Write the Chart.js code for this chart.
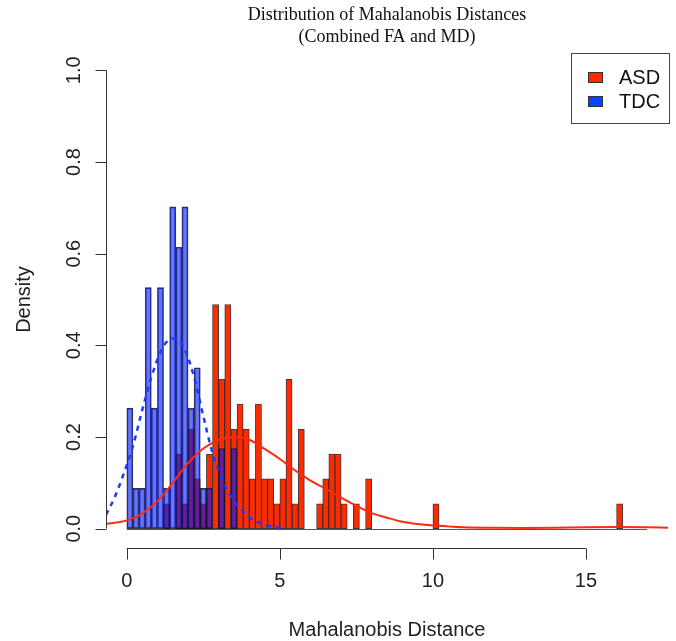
<!DOCTYPE html>
<html>
<head>
<meta charset="utf-8">
<script src="https://cdn.jsdelivr.net/npm/chart.js"></script>
<style>
  html, body { margin: 0; padding: 0; background: #fff; }
  #wrap { width: 676px; height: 641px; }
</style>
</head>
<body>
<div id="wrap"><canvas id="chart" width="676" height="641"></canvas></div>
<script>
const tdcCenters = [0.1, 0.3, 0.5, 0.7, 0.9, 1.1, 1.3, 1.5, 1.7, 1.9, 2.1, 2.3, 2.5, 2.7, 3.1, 3.5];
const tdcDensity = [0.263, 0.088, 0.088, 0.526, 0.263, 0.526, 0.088, 0.702, 0.614, 0.702, 0.263, 0.351, 0.088, 0.088, 0.175, 0.175];

const asdCenters = [1.3, 1.7, 1.9, 2.1, 2.3, 2.5, 2.7, 2.9, 3.1, 3.3, 3.5, 3.7, 3.9, 4.1, 4.3, 4.5,
                    4.7, 4.9, 5.1, 5.3, 5.5, 5.7, 6.3, 6.5, 6.7, 6.9, 7.1, 7.5, 7.9, 10.1, 16.1];
const asdDensity = [0.054, 0.163, 0.054, 0.217, 0.109, 0.054, 0.163, 0.489, 0.326, 0.489, 0.217, 0.272,
                    0.217, 0.109, 0.272, 0.109, 0.109, 0.054, 0.109, 0.326, 0.054, 0.217, 0.054, 0.109,
                    0.163, 0.163, 0.054, 0.054, 0.109, 0.054, 0.054];

// fitted density curves
const tdcCurveX = [-0.68, -0.4, -0.1, 0.2, 0.5, 0.8, 1.1, 1.4, 1.6, 1.9, 2.2, 2.5, 2.8, 3.1, 3.4, 3.7, 4.0, 4.4, 4.8, 5.2];
const tdcCurveY = [0.030, 0.068, 0.120, 0.180, 0.258, 0.330, 0.385, 0.413, 0.415, 0.390, 0.330, 0.245, 0.165, 0.110, 0.070, 0.045, 0.025, 0.011, 0.004, 0.001];

const asdCurveX = [-0.68, 0, 0.5, 1.0, 1.5, 2.0, 2.5, 3.0, 3.5, 4.0, 4.5, 5.0, 5.5, 6.0, 6.5, 7.0, 7.5, 8.0,
                   8.5, 9.0, 9.5, 10.0, 10.5, 11, 12, 13, 14, 15, 16, 17, 17.68];
const asdCurveY = [0.010, 0.018, 0.033, 0.060, 0.100, 0.143, 0.175, 0.193, 0.200, 0.194, 0.174, 0.152, 0.127,
                   0.105, 0.087, 0.068, 0.050, 0.034, 0.024, 0.015, 0.010, 0.007, 0.005, 0.003, 0.002, 0.0015,
                   0.002, 0.003, 0.0035, 0.003, 0.002];

const xTicks = [0, 5, 10, 15];
const yTicks = [0.0, 0.2, 0.4, 0.6, 0.8, 1.0];
const titleLines = ['Distribution of Mahalanobis Distances', '(Combined FA and MD)'];
const legendItems = [
  { label: 'ASD', color: '#ff2a00' },
  { label: 'TDC', color: '#1040ff' }
];

function pairs(xs, ys) {
  return xs.map((x, i) => ({ x: x, y: ys[i] }));
}

const sansFont = '20px "Liberation Sans", Arial, sans-serif';

const rStyle = {
  id: 'rStyle',
  beforeDatasetsDraw(chart) {
    const { ctx, scales: { x, y } } = chart;
    // zero height bins leave a line along the base
    ctx.save();
    ctx.strokeStyle = '#555';
    ctx.lineWidth = 1;
    ctx.beginPath();
    ctx.moveTo(x.getPixelForValue(0), Math.round(y.getPixelForValue(0)) + 0.5);
    ctx.lineTo(x.getPixelForValue(17), Math.round(y.getPixelForValue(0)) + 0.5);
    ctx.stroke();
    ctx.restore();
  },
  afterDraw(chart) {
    const { ctx, chartArea, scales: { x, y } } = chart;
    ctx.save();
    ctx.strokeStyle = '#333';
    ctx.fillStyle = '#222';
    ctx.lineWidth = 1;

    // x axis
    const ax = Math.round(chartArea.bottom) + 1.5;
    ctx.beginPath();
    ctx.moveTo(x.getPixelForValue(xTicks[0]), ax);
    ctx.lineTo(x.getPixelForValue(xTicks[xTicks.length - 1]), ax);
    xTicks.forEach(t => {
      const px = Math.round(x.getPixelForValue(t)) + 0.5;
      ctx.moveTo(px, ax);
      ctx.lineTo(px, ax + 11);
    });
    ctx.stroke();
    ctx.font = sansFont;
    ctx.textAlign = 'center';
    ctx.textBaseline = 'middle';
    xTicks.forEach(t => ctx.fillText(String(t), x.getPixelForValue(t), ax + 33));
    ctx.fillText('Mahalanobis Distance', (chartArea.left + chartArea.right) / 2, 630);

    // y axis
    const ay = Math.round(chartArea.left) + 0.5;
    ctx.beginPath();
    ctx.moveTo(ay, y.getPixelForValue(yTicks[0]));
    ctx.lineTo(ay, y.getPixelForValue(yTicks[yTicks.length - 1]));
    yTicks.forEach(t => {
      const py = Math.round(y.getPixelForValue(t)) + 0.5;
      ctx.moveTo(ay, py);
      ctx.lineTo(ay - 11, py);
    });
    ctx.stroke();
    yTicks.forEach(t => {
      ctx.save();
      ctx.translate(ay - 32, y.getPixelForValue(t));
      ctx.rotate(-Math.PI / 2);
      ctx.fillText(t.toFixed(1), 0, 0);
      ctx.restore();
    });
    ctx.save();
    ctx.translate(24, (chartArea.top + chartArea.bottom) / 2);
    ctx.rotate(-Math.PI / 2);
    ctx.fillText('Density', 0, 0);
    ctx.restore();

    // title
    ctx.font = '18px "Liberation Serif", "Times New Roman", serif';
    ctx.fillStyle = '#111';
    const cx = (chartArea.left + chartArea.right) / 2;
    ctx.fillText(titleLines[0], cx, 15);
    ctx.fillText(titleLines[1], cx, 37);

    // legend
    ctx.strokeStyle = '#444';
    ctx.strokeRect(571.5, 53.5, 98, 70);
    ctx.font = sansFont;
    ctx.textAlign = 'left';
    legendItems.forEach((it, i) => {
      const ly = 77 + i * 24;
      ctx.fillStyle = it.color;
      ctx.fillRect(588, ly - 5, 15, 11);
      ctx.strokeStyle = '#333';
      ctx.strokeRect(588.5, ly - 4.5, 14, 10);
      ctx.fillStyle = '#111';
      ctx.fillText(it.label, 619, ly + 1);
    });
    ctx.restore();
  }
};

new Chart(document.getElementById('chart'), {
  type: 'bar',
  data: {
    datasets: [
      {
        type: 'line',
        label: 'TDC density',
        data: pairs(tdcCurveX, tdcCurveY),
        borderColor: '#1a3cff',
        borderWidth: 2.5,
        borderDash: [5, 5],
        pointRadius: 0,
        tension: 0.4,
        cubicInterpolationMode: 'monotone',
        order: 0
      },
      {
        type: 'line',
        label: 'ASD density',
        data: pairs(asdCurveX, asdCurveY),
        borderColor: '#ff2a10',
        borderWidth: 2,
        pointRadius: 0,
        tension: 0.4,
        cubicInterpolationMode: 'monotone',
        order: 1
      },
      {
        label: 'TDC',
        data: pairs(tdcCenters, tdcDensity),
        backgroundColor: 'rgba(0, 25, 255, 0.6)',
        borderColor: 'rgba(20, 20, 40, 0.85)',
        borderWidth: 1,
        borderSkipped: false,
        grouped: false,
        barPercentage: 1,
        categoryPercentage: 1,
        order: 2
      },
      {
        label: 'ASD',
        data: pairs(asdCenters, asdDensity),
        backgroundColor: '#ff2a00',
        borderColor: 'rgba(30, 20, 20, 0.85)',
        borderWidth: 1,
        borderSkipped: false,
        grouped: false,
        barPercentage: 1,
        categoryPercentage: 1,
        order: 3
      }
    ]
  },
  options: {
    responsive: false,
    animation: false,
    events: [],
    layout: { padding: { left: 106, right: 8, top: 52, bottom: 94 } },
    scales: {
      x: { type: 'linear', min: -0.68, max: 17.68, offset: false, display: false },
      y: { type: 'linear', min: -0.04, max: 1.04, display: false }
    },
    plugins: {
      legend: { display: false },
      title: { display: false },
      tooltip: { enabled: false }
    }
  },
  plugins: [rStyle]
});
</script>
</body>
</html>
